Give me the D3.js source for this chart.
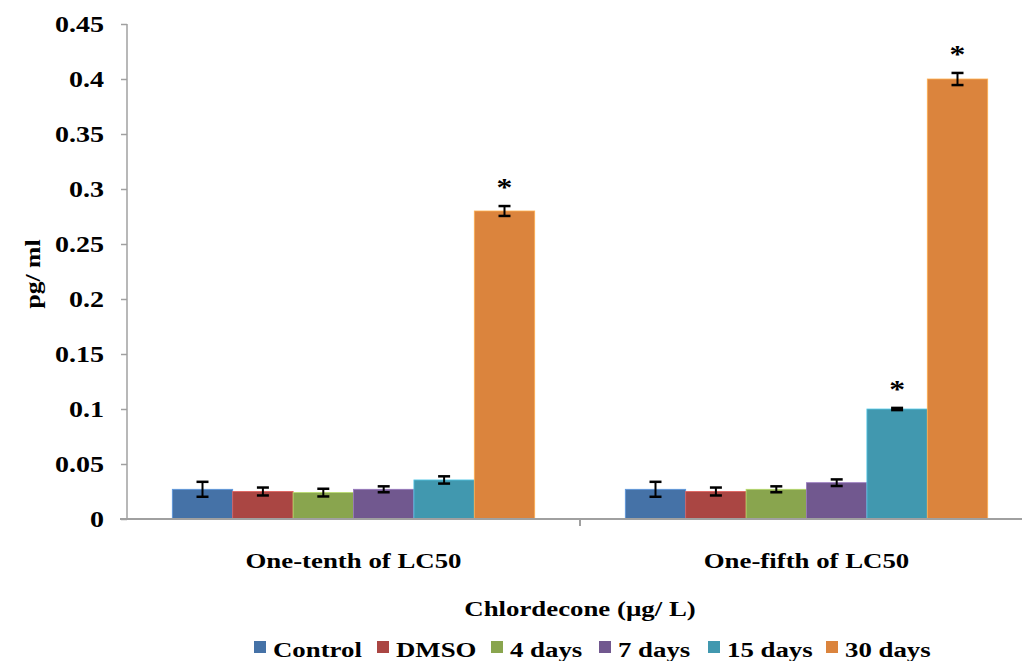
<!DOCTYPE html>
<html>
<head>
<meta charset="utf-8">
<script src="https://cdn.jsdelivr.net/npm/d3@7"></script>
<style>
    body { margin: 0; background: #fff; }
    svg text { font-family: "Liberation Serif", "Times New Roman", serif; font-weight: bold; fill: #000; }
</style>
</head>
<body>
<div id="chart"></div>
<script>
// data
const groups = ["One-tenth of LC50", "One-fifth of LC50"];
const series = ["Control", "DMSO", "4 days", "7 days", "15 days", "30 days"];
const colors = ["#4572A7", "#AA4643", "#89A54E", "#71588F", "#4198AF", "#DB843D"];
const valuesTenth = [0.027, 0.025, 0.024, 0.027, 0.0355, 0.28];
const valuesFifth = [0.027, 0.025, 0.027, 0.033, 0.1, 0.4];
const errorsTenth = [0.0068, 0.0036, 0.0035, 0.0027, 0.0033, 0.0045];
const errorsFifth = [0.0068, 0.0036, 0.0027, 0.003, 0.001, 0.0055];
const starsTenth = [false, false, false, false, false, true];
const starsFifth = [false, false, false, false, true, true];
const yTicks = [0, 0.05, 0.1, 0.15, 0.2, 0.25, 0.3, 0.35, 0.4, 0.45];

const W = 1022, H = 661;
const SX = 1.22; // the original text is drawn a bit wide

const svg = d3.select("#chart").append("svg")
    .attr("width", W)
    .attr("height", H);

// text placed at x,y and stretched sideways like the source
function wideText(parent, x, y, str, size, anchor, extra){
    return parent.append("text")
        .attr("transform", `translate(${x},${y})${extra || ""} scale(${SX},1)`)
        .attr("text-anchor", anchor || "middle")
        .style("font-size", size + "px")
        .text(str);
}

const x0 = d3.scaleBand().domain(groups).range([127, 1033]).paddingInner(0).paddingOuter(0);
const x1 = d3.scaleBand().domain(series).range([0, x0.bandwidth()]).paddingInner(0).paddingOuter(0.75);
const y = d3.scaleLinear().domain([0, 0.45]).range([519, 24]);

const rows = [];
groups.forEach((g, gi) => {
    const vals = gi === 0 ? valuesTenth : valuesFifth;
    const errs = gi === 0 ? errorsTenth : errorsFifth;
    const stars = gi === 0 ? starsTenth : starsFifth;
    series.forEach((s, si) => {
        rows.push({ group: g, series: s, value: vals[si], err: errs[si], star: stars[si], color: colors[si] });
    });
});

// bars
svg.append("g").selectAll("rect")
    .data(rows)
    .enter()
    .append("rect")
        .attr("x", d => x0(d.group) + x1(d.series))
        .attr("y", d => y(d.value))
        .attr("width", x1.bandwidth())
        .attr("height", d => y(0) - y(d.value))
        .style("fill", d => d.color)
        .style("stroke", d => d3.color(d.color).brighter(0.8))
        .style("stroke-width", 0.8);

// error bars
const eb = svg.append("g").selectAll("g")
    .data(rows)
    .enter()
    .append("g")
    .attr("transform", d => `translate(${x0(d.group) + x1(d.series) + x1.bandwidth() / 2},0)`);
eb.append("line")
    .attr("y1", d => y(d.value + d.err))
    .attr("y2", d => y(d.value - d.err))
    .style("stroke", "#000").style("stroke-width", 2);
eb.append("line")
    .attr("x1", -6).attr("x2", 6)
    .attr("y1", d => y(d.value + d.err)).attr("y2", d => y(d.value + d.err))
    .style("stroke", "#000").style("stroke-width", 2.5);
eb.append("line")
    .attr("x1", -6).attr("x2", 6)
    .attr("y1", d => y(d.value - d.err)).attr("y2", d => y(d.value - d.err))
    .style("stroke", "#000").style("stroke-width", 2.5);

// stars
const starG = svg.append("g");
rows.filter(d => d.star).forEach(d => {
    wideText(starG, x0(d.group) + x1(d.series) + x1.bandwidth() / 2, y(d.value + d.err) - 10, "*", 26);
});

// y axis
const yAxis = svg.append("g")
    .attr("transform", "translate(127,0)")
    .call(d3.axisLeft(y).tickValues(yTicks).tickSize(6)
        .tickFormat(d => String(+d.toFixed(2))));
yAxis.attr("font-family", null).attr("font-size", null);
yAxis.select(".domain").attr("d", `M0,${y(0.45)}V${y(0)}`).style("stroke", "#a0a0a0").style("stroke-width", 1.5);
yAxis.selectAll(".tick line").style("stroke", "#a0a0a0").style("stroke-width", 1.5);
yAxis.selectAll(".tick text")
    .attr("x", -23 / SX)
    .attr("transform", `scale(${SX},1)`)
    .style("font-size", "23px");

// x axis
const xg = svg.append("g");
xg.append("line")
    .attr("x1", 120).attr("x2", W)
    .attr("y1", y(0)).attr("y2", y(0))
    .style("stroke", "#a0a0a0").style("stroke-width", 2);
xg.selectAll(".xtick")
    .data(groups.slice(1))
    .enter()
    .append("line")
        .attr("x1", d => x0(d)).attr("x2", d => x0(d))
        .attr("y1", y(0)).attr("y2", y(0) + 7)
        .style("stroke", "#a0a0a0").style("stroke-width", 2);
groups.forEach(g => wideText(xg, x0(g) + x0.bandwidth() / 2, 568, g, 22));

// axis titles
wideText(svg, 580, 616, "Chlordecone (µg/ L)", 22);
wideText(svg, 40, 274, "pg/ ml", 21, "middle", " rotate(-90)");

// legend
const legendX = [254, 377, 491, 599, 708, 826];
const lg = svg.append("g");
series.forEach((s, i) => {
    const item = lg.append("g").attr("transform", `translate(${legendX[i]},649)`);
    item.append("rect")
        .attr("x", 0).attr("y", -8)
        .attr("width", 12).attr("height", 12)
        .style("fill", colors[i]);
    wideText(item, 19, 8, s, 22, "start");
});
</script>
</body>
</html>
